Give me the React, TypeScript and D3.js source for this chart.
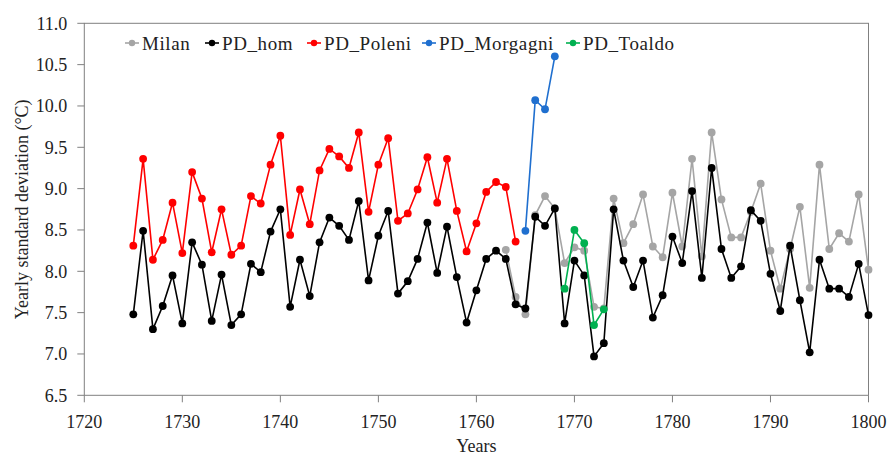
import React from "react"
import * as d3 from "d3"

// years for each series
const homStart = 1725
const poleniStart = 1725
const morgagniStart = 1765
const toaldoStart = 1769
const milanStart = 1763

const pdHom = [
  7.48, 8.49, 7.30, 7.58, 7.95, 7.37, 8.35, 8.08, 7.40, 7.96,
  7.35, 7.48, 8.09, 7.99, 8.48, 8.75, 7.57, 8.14, 7.70, 8.35,
  8.65, 8.55, 8.38, 8.85, 7.89, 8.43, 8.73, 7.73, 7.88, 8.15,
  8.59, 7.98, 8.54, 7.93, 7.38, 7.77, 8.15, 8.25, 8.15, 7.60,
  7.55, 8.66, 8.55, 8.76, 7.37, 8.13, 7.95, 6.97, 7.13, 8.75,
  8.13, 7.81, 8.13, 7.44, 7.71, 8.42, 8.10, 8.97, 7.92, 9.25,
  8.27, 7.92, 8.06, 8.74, 8.61, 7.97, 7.52, 8.31, 7.65, 7.02,
  8.14, 7.79, 7.79, 7.69, 8.09, 7.47,
]
const pdPoleni = [
  8.31, 9.36, 8.14, 8.38, 8.83, 8.22, 9.20, 8.88, 8.23, 8.75,
  8.20, 8.31, 8.91, 8.82, 9.29, 9.64, 8.44, 8.99, 8.57, 9.22,
  9.48, 9.39, 9.25, 9.68, 8.72, 9.29, 9.61, 8.61, 8.70, 8.99,
  9.38, 8.83, 9.36, 8.73, 8.24, 8.58, 8.96, 9.08, 9.02, 8.36,
]
const pdMorgagni = [8.49, 10.07, 9.96, 10.60]
const pdToaldo = [7.79, 8.50, 8.34, 7.35, 7.54]
const milan = [
  8.26, 7.69, 7.48, 8.68, 8.91, 8.76, 8.10, 8.29, 8.25, 7.57,
  7.55, 8.88, 8.34, 8.57, 8.93, 8.30, 8.17, 8.95, 8.30, 9.36,
  8.18, 9.68, 8.87, 8.41, 8.41, 8.72, 9.06, 8.25, 7.79, 8.27,
  8.78, 7.80, 9.29, 8.27, 8.46, 8.36, 8.93, 8.02,
]

const xTicks = [1720, 1730, 1740, 1750, 1760, 1770, 1780, 1790, 1800]
const yTicks = [6.5, 7.0, 7.5, 8.0, 8.5, 9.0, 9.5, 10.0, 10.5, 11.0]

const series = [
  { name: "Milan", start: milanStart, values: milan, color: "#a5a5a5" },
  { name: "PD_hom", start: homStart, values: pdHom, color: "#000000" },
  { name: "PD_Poleni", start: poleniStart, values: pdPoleni, color: "#ff0000" },
  { name: "PD_Morgagni", start: morgagniStart, values: pdMorgagni, color: "#1f6fcf" },
  { name: "PD_Toaldo", start: toaldoStart, values: pdToaldo, color: "#00b050" },
]

const legendX = [132, 212, 314, 429, 573]

export default function App() {
  const width = 887, height = 456
  const left = 84.3, right = 868.5, top = 23.3, bottom = 395.3
  const font = "'Liberation Serif', 'Times New Roman', serif"

  const x = d3.scaleLinear().domain([1720, 1800]).range([left, right])
  const y = d3.scaleLinear().domain([6.5, 11]).range([bottom, top])
  const line = d3.line<[number, number]>().x(d => x(d[0])).y(d => y(d[1]))

  return (
    <svg width={width} height={height} style={{ position: "absolute", left: 0, top: 0, background: "#fff" }}>
      <rect x={left} y={top} width={right - left} height={bottom - top} fill="none" stroke="#808080" strokeWidth={1} />
      {/* y axis */}
      {yTicks.map(t => (
        <g key={t}>
          <line x1={left - 7} x2={left} y1={y(t)} y2={y(t)} stroke="#808080" />
          <text x={left - 17} y={y(t)} dy="0.35em" textAnchor="end" fontFamily={font} fontSize={18} fill="#222">
            {t.toFixed(1)}
          </text>
        </g>
      ))}
      {/* x axis */}
      {xTicks.map(t => (
        <g key={t}>
          <line x1={x(t)} x2={x(t)} y1={bottom} y2={bottom + 7} stroke="#808080" />
          <text x={x(t)} y={428} textAnchor="middle" fontFamily={font} fontSize={18} fill="#222">
            {t}
          </text>
        </g>
      ))}
      <text x={(left + right) / 2} y={452} textAnchor="middle" fontFamily={font} fontSize={18} fill="#222">Years</text>
      <text transform={`translate(28,${(top + bottom) / 2}) rotate(-90)`} textAnchor="middle" fontFamily={font} fontSize={18} fill="#222">
        Yearly standard deviation (°C)
      </text>

      {series.map(s => {
        const pts: [number, number][] = s.values.map((v, i) => [s.start + i, v])
        return (
          <g key={s.name}>
            <path d={line(pts) || ""} fill="none" stroke={s.color} strokeWidth={1.6} />
            {pts.map((p, i) => (
              <circle key={i} cx={x(p[0])} cy={y(p[1])} r={3.9} fill={s.color} />
            ))}
          </g>
        )
      })}

      {/* legend */}
      {series.map((s, i) => (
        <g key={s.name} transform={`translate(${legendX[i]},43)`}>
          <line x1={-7} x2={7} y1={0} y2={0} stroke={s.color} strokeWidth={1.6} />
          <circle r={3.2} fill={s.color} />
          <text x={10} dy="0.35em" fontFamily={font} fontSize={19} letterSpacing={0.6} fill="#222">{s.name}</text>
        </g>
      ))}
    </svg>
  )
}
